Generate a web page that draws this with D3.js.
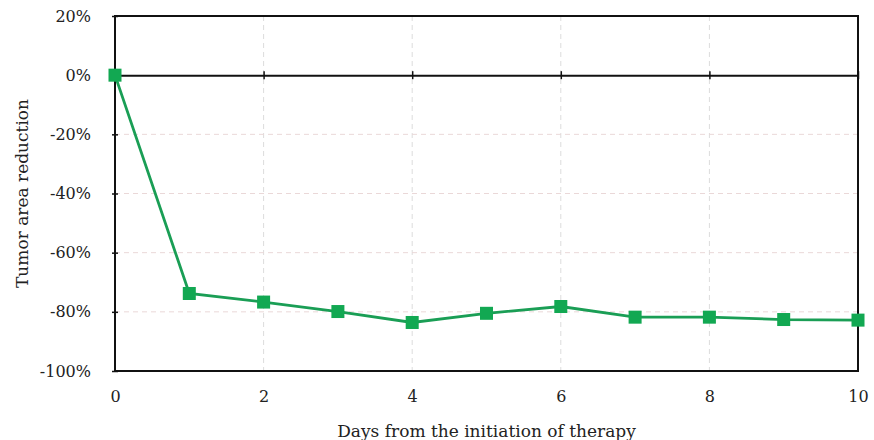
<!DOCTYPE html>
<html>
<head>
<meta charset="utf-8">
<script src="https://cdn.jsdelivr.net/npm/d3@7"></script>
<style>
body { margin: 0; background: #fff; }
text { font-family: "DejaVu Serif", serif; fill: #222; }
</style>
</head>
<body>
<div id="chart"></div>
<script>
var width = 874;
var height = 440;

// data
var days = [0, 1, 2, 3, 4, 5, 6, 7, 8, 9, 10];
var reduction = [0, -73.8, -76.7, -79.9, -83.6, -80.5, -78.2, -81.8, -81.8, -82.6, -82.8];
var xTicks = [0, 2, 4, 6, 8, 10];
var yTicks = [20, 0, -20, -40, -60, -80, -100];

// plot box (window.top is reserved, so prefixed names)
var pLeft = 115, pRight = 858, pTop = 16, pBottom = 371;

var svg = d3.select("#chart")
    .append("svg")
    .attr("width", width)
    .attr("height", height);

var x = d3.scaleLinear().domain([0, 10]).range([pLeft, pRight]);
var y = d3.scaleLinear().domain([-100, 20]).range([pBottom, pTop]);

// grid
svg.append("g")
    .selectAll("line")
    .data(xTicks.filter(function(d) { return d > 0 && d < 10; }))
    .enter().append("line")
    .attr("x1", function(d) { return x(d); })
    .attr("x2", function(d) { return x(d); })
    .attr("y1", pTop)
    .attr("y2", pBottom)
    .attr("stroke", "#dcdcdc")
    .attr("stroke-width", 1)
    .attr("stroke-dasharray", "5,4");

svg.append("g")
    .selectAll("line")
    .data(yTicks.filter(function(d) { return d < 0 && d > -100; }))
    .enter().append("line")
    .attr("x1", pLeft)
    .attr("x2", pRight)
    .attr("y1", function(d) { return y(d); })
    .attr("y2", function(d) { return y(d); })
    .attr("stroke", "#ead8d8")
    .attr("stroke-width", 1)
    .attr("stroke-dasharray", "5,4");

// frame
svg.append("rect")
    .attr("x", pLeft)
    .attr("y", pTop)
    .attr("width", pRight - pLeft)
    .attr("height", pBottom - pTop)
    .attr("fill", "none")
    .attr("stroke", "#111")
    .attr("stroke-width", 2);

// zero line with ticks
var zeroAxis = svg.append("g")
    .attr("transform", "translate(0," + y(0) + ")")
    .call(d3.axisBottom(x).tickValues(xTicks).tickSizeInner(0).tickSizeOuter(0).tickFormat(""));
zeroAxis.select(".domain").attr("stroke", "#111").attr("stroke-width", 2);
zeroAxis.selectAll(".tick line")
    .attr("y1", -4).attr("y2", 4)
    .attr("stroke", "#111").attr("stroke-width", 1.5);

// y axis
var yAxis = svg.append("g")
    .attr("transform", "translate(" + pLeft + ",0)")
    .call(d3.axisLeft(y).tickValues(yTicks).tickSizeInner(4).tickSizeOuter(0)
        .tickPadding(20).tickFormat(function(d) { return d + "%"; }));
yAxis.attr("font-family", null).attr("font-size", null);
yAxis.select(".domain").remove();
yAxis.selectAll(".tick line").attr("x1", -3).attr("x2", 3).attr("stroke", "#111").attr("stroke-width", 1.5);
yAxis.selectAll(".tick text")
    .style("font-size", "16px")
    .attr("fill", "#222");

// x axis labels
var xAxis = svg.append("g")
    .attr("transform", "translate(0," + pBottom + ")")
    .call(d3.axisBottom(x).tickValues(xTicks).tickSize(0).tickPadding(20).tickFormat(d3.format("d")));
xAxis.attr("font-family", null).attr("font-size", null);
xAxis.select(".domain").remove();
xAxis.selectAll(".tick text")
    .style("font-size", "16px")
    .attr("fill", "#222");

// titles
svg.append("text")
    .text("Days from the initiation of therapy")
    .attr("x", (pLeft + pRight) / 2)
    .attr("y", 437)
    .attr("text-anchor", "middle")
    .style("font-size", "17px");

svg.append("text")
    .text("Tumor area reduction")
    .attr("transform", "translate(28," + (pTop + pBottom) / 2 + ") rotate(-90)")
    .attr("text-anchor", "middle")
    .style("font-size", "17px");

// line
var line = d3.line()
    .x(function(d, i) { return x(days[i]); })
    .y(function(d) { return y(d); });

svg.append("path")
    .datum(reduction)
    .attr("d", line)
    .attr("fill", "none")
    .attr("stroke", "#1a9e55")
    .attr("stroke-width", 2.8);

svg.append("g")
    .selectAll("rect")
    .data(reduction)
    .enter().append("rect")
    .attr("x", function(d, i) { return x(days[i]) - 6.5; })
    .attr("y", function(d) { return y(d) - 6.5; })
    .attr("width", 13)
    .attr("height", 13)
    .attr("fill", "#12a852");
</script>
</body>
</html>
